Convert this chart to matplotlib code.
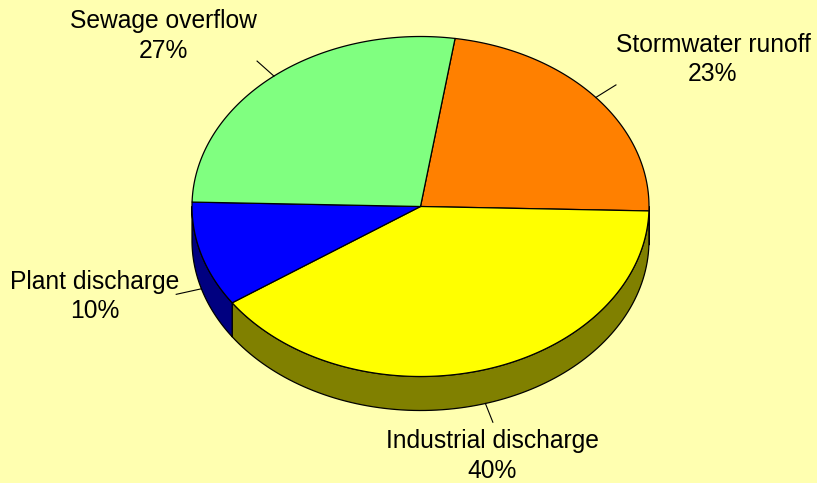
import numpy as np
import matplotlib
matplotlib.use("Agg")
import matplotlib.pyplot as plt
from matplotlib.patches import Polygon

# ---- data ----
labels = ["Stormwater runoff", "Industrial discharge", "Plant discharge", "Sewage overflow"]
values = [23, 40, 10, 27]
top_colors = ["#FF8000", "#FFFF00", "#0000FF", "#80FF80"]
side_colors = ["#804000", "#808000", "#000080", "#408040"]

# ---- layout (pixel space) ----
W, H = 817, 483
BG = "#FFFFB0"
cx, cy = 420.5, 206.5
rx, ry = 228.5, 170.0
depth = 34.0
start_angle = 81.3  # degrees, slices go clockwise
label_pos = {
    "Stormwater runoff": (713, 59.5),
    "Industrial discharge": (492, 456),
    "Plant discharge": (95, 296.5),
    "Sewage overflow": (163.5, 36),
}
FONT = "Liberation Sans"
FS = 17.7

fig = plt.figure(figsize=(W / 100, H / 100), dpi=100, facecolor=BG)
ax = fig.add_axes([0, 0, 1, 1])
ax.set_facecolor(BG)
ax.set_xlim(0, W)
ax.set_ylim(H, 0)
ax.axis("off")


def pt(theta_deg, dz=0.0, f=1.0):
    t = np.radians(theta_deg)
    return cx + f * rx * np.cos(t), cy - f * ry * np.sin(t) + dz


total = float(sum(values))
bounds = []
a = start_angle
for v in values:
    span = 360.0 * v / total
    bounds.append((a - span, a))  # ccw from a-span to a
    a -= span

# side walls (front half: angles where sin < 0)
for (a0, a1), sc in zip(bounds, side_colors):
    for lo, hi in [(180, 360), (-180, 0), (540, 720)]:
        s, e = max(a0, lo), min(a1, hi)
        if e > s:
            th = np.linspace(s, e, 100)
            xs, ys = pt(th)
            top = np.column_stack([xs, ys])
            bot = np.column_stack([xs, ys + depth])[::-1]
            poly = np.vstack([top, bot])
            ax.add_patch(Polygon(poly, closed=True, facecolor=sc, edgecolor="black",
                                 linewidth=0.9, joinstyle="round", zorder=1))

# top faces
for (a0, a1), tc in zip(bounds, top_colors):
    th = np.linspace(a0, a1, 200)
    xs, ys = pt(th)
    poly = np.vstack([[cx, cy], np.column_stack([xs, ys])])
    ax.add_patch(Polygon(poly, closed=True, facecolor=tc, edgecolor="black",
                         linewidth=0.9, joinstyle="round", zorder=2))

# labels with leader lines
for (a0, a1), lab, v in zip(bounds, labels, values):
    mid = 0.5 * (a0 + a1)
    front = np.sin(np.radians(mid)) < 0
    dz = depth if front else 0.0
    x0, y0 = pt(mid, dz, 1.0)
    x1, y1 = pt(mid, dz, 1.115)
    ax.plot([x0, x1], [y0, y1], color="black", lw=0.8, zorder=3)
    tx, ty = label_pos[lab]
    ax.text(tx, ty, f"{lab}\n{v / total:.0%}", ha="center", va="center",
            fontsize=FS, family=FONT, color="black", linespacing=1.3, zorder=4)

fig.savefig("out.png", dpi=100, facecolor=BG)
